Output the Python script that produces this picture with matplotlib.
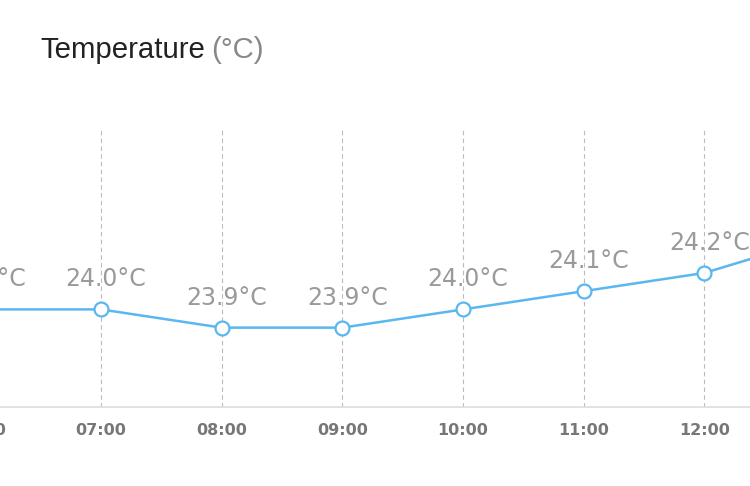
import matplotlib
matplotlib.use('Agg')
from matplotlib import pyplot as plt

# hourly readings
hours = ['06:00', '07:00', '08:00', '09:00', '10:00', '11:00', '12:00', '13:00']
temps = [24.0, 24.0, 23.9, 23.9, 24.0, 24.1, 24.2, 24.4]
unit = '°C'

line_color = '#5ab7ef'
x = list(range(len(hours)))

fig = plt.figure(figsize=(7.5, 4.86), dpi=100)
ax = fig.add_axes([0, 1 - 407 / 486, 1, 280 / 486])

ax.plot(x, temps, color=line_color, lw=1.8, marker='o', ms=10,
        mfc='white', mec=line_color, mew=1.6, zorder=3, clip_on=True)

# value labels and hour labels as annotations so the cut-off ones at the edges still show
for xi, t, h in zip(x, temps, hours):
    ax.annotate(f'{t:.1f}{unit}', (xi, t), xytext=(3.5, 16.5), textcoords='offset points',
                ha='center', va='baseline', fontsize=17, color='#9a9a9a',
                annotation_clip=False)
    ax.annotate(h, (xi, 0), xycoords=('data', 'axes fraction'), xytext=(0, -20.5),
                textcoords='offset points', ha='center', va='baseline',
                fontsize=11.5, fontweight='bold', color='#777777', annotation_clip=False)

ax.set_xticks(x)
ax.set_xticklabels([])
ax.tick_params(axis='x', length=0)
ax.set_yticks([])

# x range shows 07:00..12:00 fully, neighbours cut off (set after ticks)
ax.set_xlim(0.163, 6.378)
ax.set_ylim(23.465, 25.0)

ax.grid(axis='x', color='#bbbbbb', ls=(0, (4, 3)), lw=0.8)
for s in ['top', 'left', 'right']:
    ax.spines[s].set_visible(False)
ax.spines['bottom'].set_color('#dddddd')
ax.spines['bottom'].set_linewidth(1.2)

title = fig.text(40 / 750, 1 - 58 / 486, 'Temperature', fontsize=21.2, color='#222222',
                 family='Liberation Sans', va='baseline')
fig.canvas.draw()
bb = title.get_window_extent()
fig.text((bb.x1 + 6) / 750, 1 - 58 / 486, '(°C)', fontsize=21.2, color='#888888',
         family='Liberation Sans', va='baseline')

fig.savefig('out.png', dpi=100, facecolor='white')
